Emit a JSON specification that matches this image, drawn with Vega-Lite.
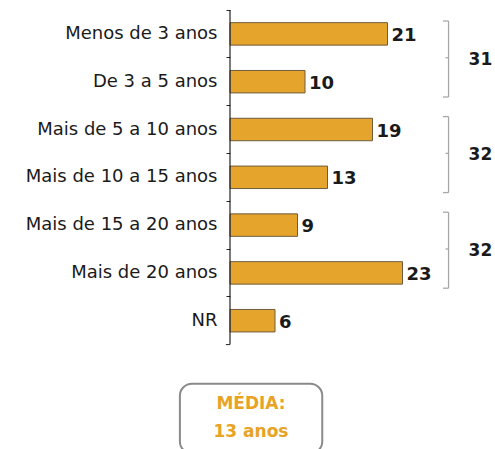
{
  "$schema": "https://vega.github.io/schema/vega-lite/v6.json",
  "padding": {"top": 9, "left": 25, "right": 5, "bottom": 0},
  "background": "white",
  "config": {"font": "DejaVu Sans", "view": {"stroke": null}},
  "datasets": {
    "tempo": [
      {"categoria": "Menos de 3 anos", "valor": 21},
      {"categoria": "De 3 a 5 anos", "valor": 10},
      {"categoria": "Mais de 5 a 10 anos", "valor": 19},
      {"categoria": "Mais de 10 a 15 anos", "valor": 13},
      {"categoria": "Mais de 15 a 20 anos", "valor": 9},
      {"categoria": "Mais de 20 anos", "valor": 23},
      {"categoria": "NR", "valor": 6}
    ],
    "grupos": [
      {"inicio": "Menos de 3 anos", "fim": "De 3 a 5 anos", "total": 31},
      {"inicio": "Mais de 5 a 10 anos", "fim": "Mais de 10 a 15 anos", "total": 32},
      {"inicio": "Mais de 15 a 20 anos", "fim": "Mais de 20 anos", "total": 32}
    ],
    "media": [
      {"texto": ["MÉDIA:", "13 anos"]}
    ]
  },
  "width": 225,
  "height": 478,
  "encoding": {
    "y": {
      "field": "categoria",
      "type": "nominal",
      "scale": {
        "domain": ["Menos de 3 anos", "De 3 a 5 anos", "Mais de 5 a 10 anos", "Mais de 10 a 15 anos", "Mais de 15 a 20 anos", "Mais de 20 anos", "NR", "espaço", "MÉDIA", "fim"],
        "paddingInner": 0,
        "paddingOuter": 0
      },
      "axis": {
        "title": null,
        "values": ["Menos de 3 anos", "De 3 a 5 anos", "Mais de 5 a 10 anos", "Mais de 10 a 15 anos", "Mais de 15 a 20 anos", "Mais de 20 anos", "NR"],
        "domain": false,
        "ticks": true,
        "tickSize": 4,
        "tickColor": "#222222",
        "bandPosition": 0,
        "labelFontSize": 18,
        "labelColor": "#1a1a1a",
        "labelPadding": 9,
        "labelLimit": 0,
        "grid": false
      }
    }
  },
  "layer": [
    {
      "data": {"name": "tempo"},
      "mark": {"type": "bar", "fill": "#E5A52D", "stroke": "#6e5c3e", "strokeWidth": 1, "height": {"band": 0.47}},
      "encoding": {
        "x": {"field": "valor", "type": "quantitative", "scale": {"domain": [0, 30]}, "axis": null}
      }
    },
    {
      "data": {"name": "tempo"},
      "mark": {"type": "text", "align": "left", "baseline": "middle", "dx": 4, "dy": 2, "fontSize": 18, "fontWeight": "bold", "color": "#1a1a1a"},
      "encoding": {
        "x": {"field": "valor", "type": "quantitative"},
        "text": {"field": "valor", "type": "quantitative"}
      }
    },
    {
      "data": {"name": "media"},
      "mark": {"type": "rule", "color": "#222222", "strokeWidth": 1.2},
      "encoding": {
        "x": {"datum": 0, "type": "quantitative"},
        "y": {"datum": "Menos de 3 anos", "type": "nominal", "bandPosition": 0},
        "y2": {"datum": "NR", "bandPosition": 1}
      }
    },
    {
      "data": {"name": "media"},
      "mark": {"type": "rule", "color": "#222222", "strokeWidth": 1},
      "encoding": {
        "x": {"datum": -0.55, "type": "quantitative"},
        "x2": {"datum": 0},
        "y": {"datum": "NR", "type": "nominal", "bandPosition": 1}
      }
    },
    {
      "data": {"name": "grupos"},
      "mark": {"type": "rule", "color": "#a8a8a8", "strokeWidth": 1.3},
      "encoding": {
        "x": {"datum": 29.14, "type": "quantitative"},
        "y": {"field": "inicio", "type": "nominal", "bandPosition": 0.23},
        "y2": {"field": "fim", "bandPosition": 0.82}
      }
    },
    {
      "data": {"name": "grupos"},
      "mark": {"type": "rule", "color": "#a8a8a8", "strokeWidth": 1.3},
      "encoding": {
        "x": {"datum": 28.4, "type": "quantitative"},
        "x2": {"datum": 29.14},
        "y": {"field": "inicio", "type": "nominal", "bandPosition": 0.23}
      }
    },
    {
      "data": {"name": "grupos"},
      "mark": {"type": "rule", "color": "#a8a8a8", "strokeWidth": 1.3},
      "encoding": {
        "x": {"datum": 28.4, "type": "quantitative"},
        "x2": {"datum": 29.14},
        "y": {"field": "fim", "type": "nominal", "bandPosition": 0.82}
      }
    },
    {
      "data": {"name": "grupos"},
      "mark": {"type": "rule", "color": "#a8a8a8", "strokeWidth": 1.3},
      "encoding": {
        "x": {"datum": 28.74, "type": "quantitative"},
        "x2": {"datum": 29.14},
        "y": {"field": "inicio", "type": "nominal", "bandPosition": 1}
      }
    },
    {
      "data": {"name": "grupos"},
      "mark": {"type": "text", "align": "left", "baseline": "middle", "dx": 20, "dy": 2, "fontSize": 17, "fontWeight": "bold", "color": "#1a1a1a"},
      "encoding": {
        "x": {"datum": 29.14, "type": "quantitative"},
        "y": {"field": "inicio", "type": "nominal", "bandPosition": 1},
        "text": {"field": "total", "type": "quantitative"}
      }
    },
    {
      "data": {"name": "media"},
      "mark": {"type": "rect", "fill": "white", "stroke": "#8a8a8a", "strokeWidth": 2, "cornerRadius": 12},
      "encoding": {
        "x": {"datum": -6.68, "type": "quantitative"},
        "x2": {"datum": 12.3},
        "y": {"datum": "espaço", "type": "nominal", "bandPosition": 0.82},
        "y2": {"datum": "fim", "bandPosition": 0.28}
      }
    },
    {
      "data": {"name": "media"},
      "mark": {"type": "text", "align": "center", "baseline": "middle", "fontSize": 17, "fontWeight": "bold", "color": "#E8A325", "lineHeight": 28, "dy": -14},
      "encoding": {
        "x": {"datum": 2.8, "type": "quantitative"},
        "y": {"datum": "MÉDIA", "type": "nominal", "bandPosition": 0.53},
        "text": {"field": "texto"}
      }
    }
  ]
}
